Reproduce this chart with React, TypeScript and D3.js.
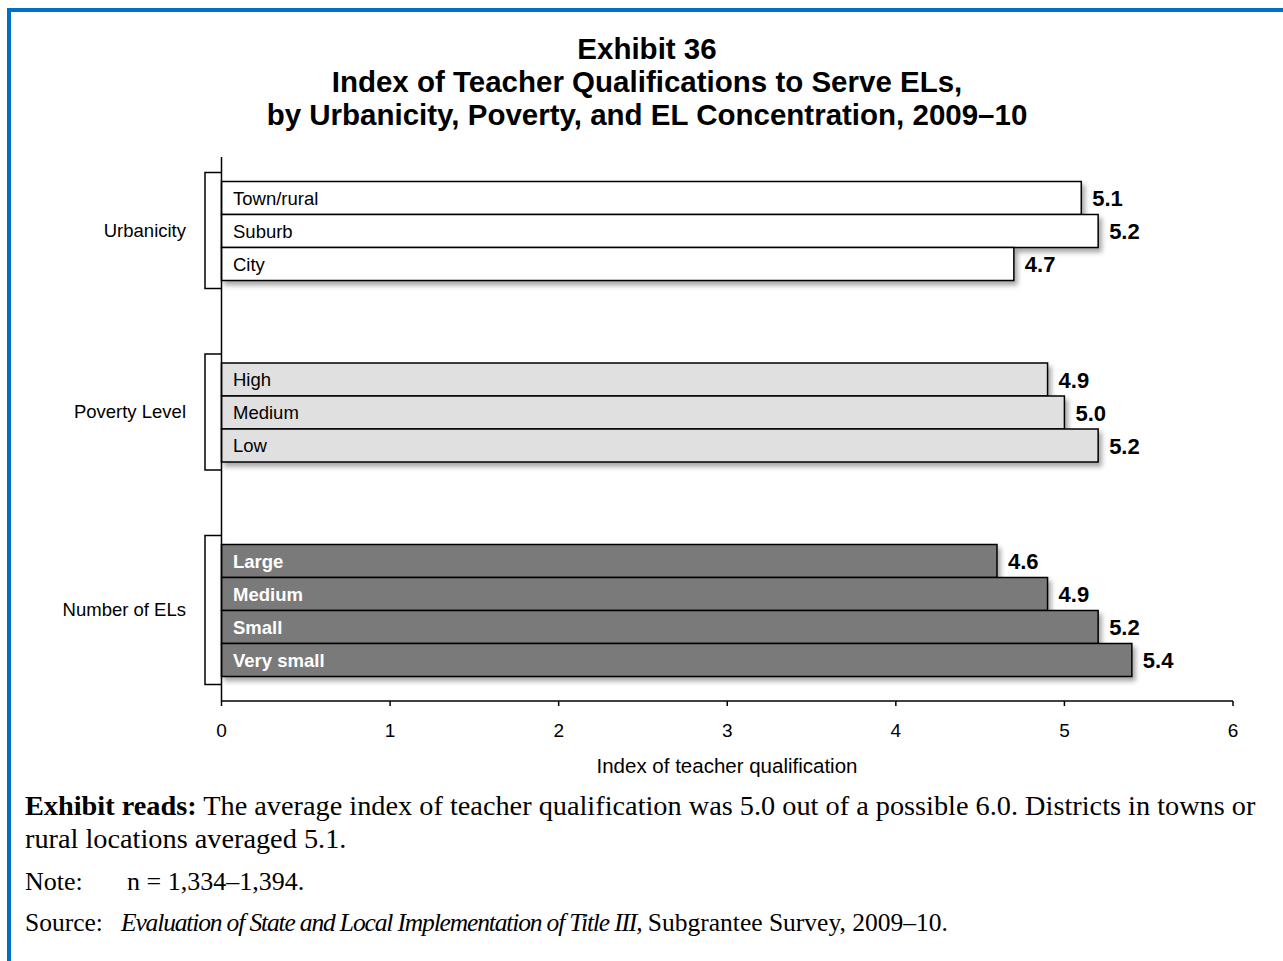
import React from "react";
import * as d3 from "d3";

const groups = ["Urbanicity", "Poverty Level", "Number of ELs"];
const urbanCats = ["Town/rural", "Suburb", "City"];
const urbanVals = [5.1, 5.2, 4.7];
const povertyCats = ["High", "Medium", "Low"];
const povertyVals = [4.9, 5.0, 5.2];
const elCats = ["Large", "Medium", "Small", "Very small"];
const elVals = [4.6, 4.9, 5.2, 5.4];
const xTicks = [0, 1, 2, 3, 4, 5, 6];
const titleLines = [
  "Exhibit 36",
  "Index of Teacher Qualifications to Serve ELs,",
  "by Urbanicity, Poverty, and EL Concentration, 2009–10",
];

const groupData = [
  { name: groups[0], cats: urbanCats, vals: urbanVals, fill: "#ffffff", text: "#000", bold: false, top: 181.5 },
  { name: groups[1], cats: povertyCats, vals: povertyVals, fill: "#e0e0e0", text: "#000", bold: false, top: 363 },
  { name: groups[2], cats: elCats, vals: elVals, fill: "#7a7a7a", text: "#fff", bold: true, top: 544.5 },
];

const FONT = "Arial, 'Liberation Sans', Helvetica, sans-serif";
const SERIF = "'Liberation Serif', 'Times New Roman', serif";

export default function App() {
  const W = 1283;
  const H = 961;
  const x = d3.scaleLinear().domain([0, 6]).range([221.5, 1233]);
  const barH = 33;
  const axisY = 701;

  return (
    <svg width={W} height={H} style={{ position: "absolute", left: 0, top: 0 }}>
      <defs>
        <filter id="shadow" x="-5%" y="-30%" width="115%" height="180%">
          <feDropShadow dx="3" dy="4" stdDeviation="2.5" floodColor="#000" floodOpacity="0.35" />
        </filter>
      </defs>
      <rect x={0} y={0} width={W} height={H} fill="#fff" />
      {/* blue frame */}
      <rect x={7} y={8} width={W - 7} height={4} fill="#0070C0" />
      <rect x={7} y={8} width={4} height={H - 8} fill="#0070C0" />

      {titleLines.map((t, i) => (
        <text key={i} x={647} y={59 + i * 33} textAnchor="middle" fontFamily={FONT} fontWeight="bold" fontSize={29.5}>
          {t}
        </text>
      ))}

      {groupData.map((g, gi) => {
        const n = g.cats.length;
        const y = d3.scaleBand().domain(g.cats).range([g.top, g.top + n * barH]).padding(0);
        const bTop = g.top - 9;
        const bBot = g.top + n * barH + 8;
        return (
          <g key={gi}>
            {/* bracket */}
            <path
              d={`M221.5,${bTop} H205 V${bBot} H221.5`}
              fill="none"
              stroke="#000"
              strokeWidth={1.5}
            />
            <text
              x={186}
              y={(bTop + bBot) / 2 + 6}
              textAnchor="end"
              fontFamily={FONT}
              fontSize={18.5}
            >
              {g.name}
            </text>
            <g filter="url(#shadow)">
              {g.cats.map((c, i) => (
                <rect
                  key={c}
                  x={x(0)}
                  y={y(c)!}
                  width={x(g.vals[i]) - x(0)}
                  height={y.bandwidth()}
                  fill={g.fill}
                  stroke="#000"
                  strokeWidth={1.5}
                />
              ))}
            </g>
            {g.cats.map((c, i) => (
              <g key={c + "t"}>
                <text
                  x={233}
                  y={y(c)! + y.bandwidth() / 2 + 6.5}
                  fontFamily={FONT}
                  fontSize={18.5}
                  fontWeight={g.bold ? "bold" : "normal"}
                  fill={g.text}
                >
                  {c}
                </text>
                <text
                  x={x(g.vals[i]) + 11}
                  y={y(c)! + y.bandwidth() / 2 + 8}
                  fontFamily={FONT}
                  fontSize={22}
                  fontWeight="bold"
                >
                  {g.vals[i].toFixed(1)}
                </text>
              </g>
            ))}
          </g>
        );
      })}

      {/* axes */}
      <line x1={x(0)} x2={x(0)} y1={157} y2={axisY} stroke="#000" strokeWidth={1.5} />
      <line x1={x(0)} x2={x(6)} y1={axisY} y2={axisY} stroke="#000" strokeWidth={1.5} />
      {xTicks.map((t) => (
        <g key={t}>
          <line x1={x(t)} x2={x(t)} y1={axisY} y2={axisY + 5} stroke="#000" strokeWidth={1.5} />
          <text x={x(t)} y={737} textAnchor="middle" fontFamily={FONT} fontSize={19}>
            {t}
          </text>
        </g>
      ))}
      <text x={727} y={773} textAnchor="middle" fontFamily={FONT} fontSize={20.5}>
        Index of teacher qualification
      </text>

      {/* footer */}
      <text x={25} y={815} fontFamily={SERIF} fontSize={28.3}>
        <tspan fontWeight="bold">Exhibit reads:</tspan>
        <tspan> The average index of teacher qualification was 5.0 out of a possible 6.0. Districts in towns or</tspan>
      </text>
      <text x={25} y={848} fontFamily={SERIF} fontSize={28.3}>
        rural locations averaged 5.1.
      </text>
      <text x={25} y={890} fontFamily={SERIF} fontSize={26}>
        Note:
        <tspan x={127}>n = 1,334–1,394.</tspan>
      </text>
      <text x={25} y={931} fontFamily={SERIF} fontSize={25.5}>
        <tspan>Source:</tspan>
        <tspan x={121} fontStyle="italic" letterSpacing={-1.15}>
          Evaluation of State and Local Implementation of Title III,
        </tspan>
        <tspan> Subgrantee Survey, 2009–10.</tspan>
      </text>
    </svg>
  );
}
